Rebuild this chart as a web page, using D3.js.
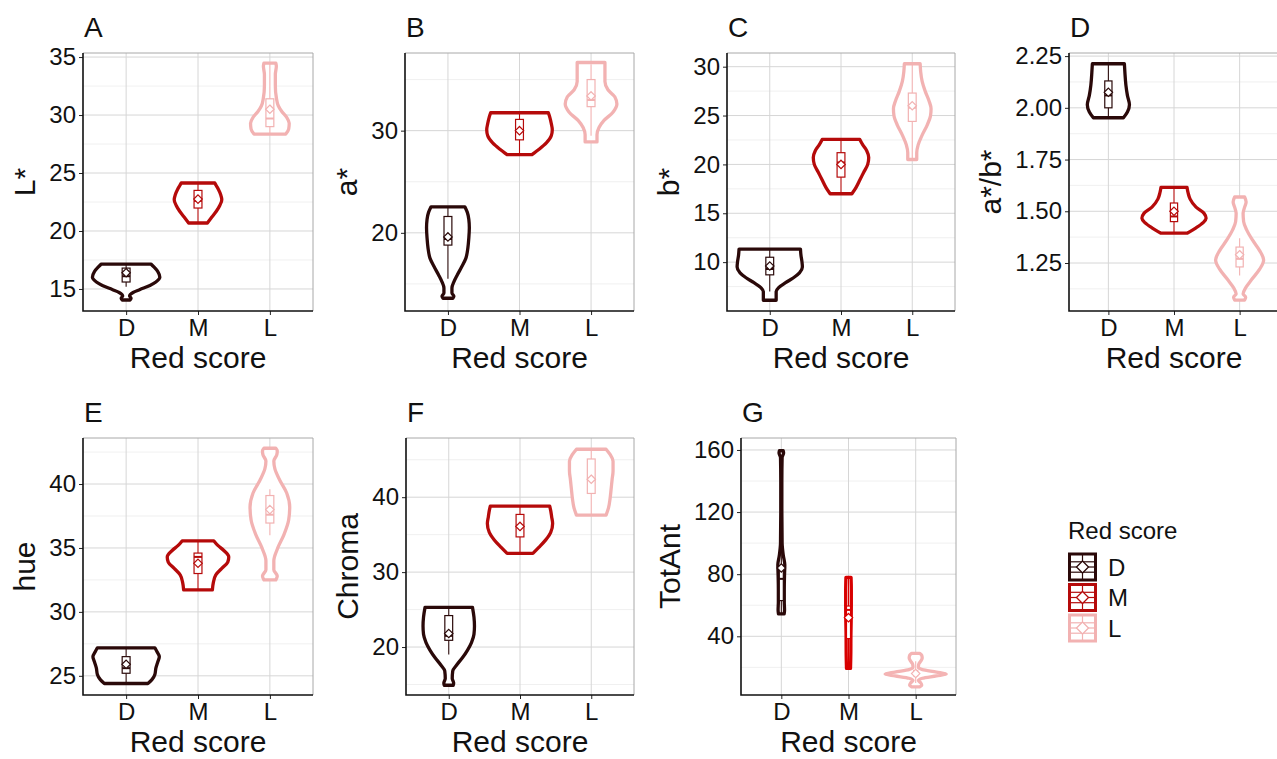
<!DOCTYPE html>
<html>
<head>
<meta charset="utf-8">
<script src="https://cdn.jsdelivr.net/npm/d3@7"></script>
<style>
  body { margin: 0; background: #fff; }
  svg { display: block; font-family: "Liberation Sans", Arial, sans-serif; }
</style>
</head>
<body>
<svg id="chart" width="1277" height="759"></svg>
<script>
// groups and panel text
const groups = ["D", "M", "L"];
const panelLetters = ["A", "B", "C", "D", "E", "F", "G"];
const yTitles = ["L*", "a*", "b*", "a*/b*", "hue", "Chroma", "TotAnt"];
const xTitle = "Red score";
const legendTitle = "Red score";

const yDomains = [[13.1, 35.35], [12.35, 37.6], [5.0, 31.4], [1.018, 2.265], [23.5, 43.6], [13.6, 47.9], [2.2, 167.7]];
const yTicks = [
  [15, 20, 25, 30, 35],
  [20, 30],
  [10, 15, 20, 25, 30],
  [1.25, 1.5, 1.75, 2.0, 2.25],
  [25, 30, 35, 40],
  [20, 30, 40],
  [40, 80, 120, 160],
];
const yTickLabels = [
  ["15", "20", "25", "30", "35"],
  ["20", "30"],
  ["10", "15", "20", "25", "30"],
  ["1.25", "1.50", "1.75", "2.00", "2.25"],
  ["25", "30", "35", "40"],
  ["20", "30", "40"],
  ["40", "80", "120", "160"],
];

// violin outlines: [value, half width in category units]
const profA_D = [[14.05, .055], [14.2, .069], [14.4, .048], [14.7, .097], [14.95, .193], [15.3, .331], [15.6, .414], [16.0, .469], [16.5, .441], [16.9, .386], [17.15, .345]];
const profA_M = [[20.69, .131], [21.2, .193], [21.7, .255], [22.2, .303], [22.7, .331], [23.1, .317], [23.6, .283], [23.9, .255], [24.14, .234]];
const profA_L = [[28.36, .221], [28.8, .262], [29.3, .269], [29.8, .234], [30.3, .166], [30.8, .117], [31.5, .09], [32.5, .076], [33.5, .076], [34.2, .09], [34.48, .083]];

const profB_D = [[13.6, .069], [13.8, .083], [14.1, .056], [14.6, .056], [15.2, .083], [15.9, .132], [16.7, .194], [17.5, .25], [18.5, .278], [19.5, .292], [20.5, .299], [21.3, .292], [22.0, .271], [22.55, .236]];
const profB_M = [[27.65, .174], [28.2, .278], [28.8, .375], [29.5, .444], [30.1, .458], [30.7, .444], [31.3, .424], [31.75, .403]];
const profB_L = [[28.9, .083], [29.6, .083], [30.3, .111], [31.0, .181], [31.8, .306], [32.6, .361], [33.3, .333], [34.0, .236], [34.8, .194], [35.8, .194], [36.67, .194]];

const profC_D = [[6.1, .09], [7.0, .09], [7.4, .125], [7.9, .222], [8.4, .333], [8.9, .417], [9.5, .458], [10.1, .451], [10.7, .438], [11.33, .431]];
const profC_M = [[17.0, .153], [17.6, .208], [18.4, .264], [19.2, .319], [20.0, .375], [20.7, .389], [21.4, .361], [22.0, .306], [22.56, .264]];
const profC_L = [[20.5, .063], [21.2, .063], [22.0, .083], [23.0, .139], [24.0, .208], [25.0, .257], [25.7, .264], [26.5, .236], [27.5, .181], [28.5, .139], [29.5, .118], [30.3, .111]];

const profD_D = [[1.952, .229], [1.98, .29], [2.015, .321], [2.06, .29], [2.11, .267], [2.17, .252], [2.213, .244]];
const profD_M = [[1.394, .198], [1.42, .336], [1.445, .443], [1.466, .489], [1.49, .458], [1.52, .336], [1.56, .244], [1.59, .214], [1.616, .198]];
const profD_L = [[1.071, .076], [1.085, .092], [1.10, .053], [1.13, .092], [1.17, .183], [1.22, .305], [1.265, .366], [1.31, .305], [1.36, .198], [1.41, .107], [1.45, .061], [1.49, .053], [1.52, .076], [1.545, .099], [1.569, .076]];

const profE_D = [[24.4, .303], [24.7, .359], [25.1, .4], [25.6, .414], [26.1, .441], [26.5, .462], [26.9, .428], [27.19, .4]];
const profE_M = [[31.72, .2], [32.3, .214], [32.9, .248], [33.4, .331], [33.9, .414], [34.3, .428], [34.8, .359], [35.2, .276], [35.55, .221]];
const profE_L = [[32.5, .083], [32.8, .103], [33.3, .055], [34.0, .055], [35.0, .11], [36.0, .193], [37.2, .262], [38.2, .276], [39.3, .234], [40.3, .138], [41.2, .069], [41.8, .055], [42.3, .097], [42.6, .103], [42.8, .083]];

const profF_D = [[14.9, .063], [15.2, .069], [15.8, .049], [16.8, .056], [17.6, .111], [18.6, .194], [19.6, .264], [20.6, .319], [21.7, .354], [22.8, .361], [24.0, .354], [25.3, .333]];
const profF_M = [[32.5, .181], [33.3, .264], [34.3, .361], [35.3, .431], [36.5, .458], [37.4, .444], [38.2, .431], [38.8, .417]];
const profF_L = [[37.6, .208], [38.6, .243], [39.8, .264], [41.0, .278], [42.3, .292], [43.5, .306], [44.8, .306], [45.7, .264], [46.4, .208]];

const profG_D = [[54.4, .042], [57, .048], [62, .044], [70, .044], [80, .048], [86, .052], [92, .03], [100, .012], [120, .008], [140, .008], [155, .012], [158, .034], [159.5, .028]];
const profG_M = [[19.3, .03], [30, .035], [40, .036], [50, .04], [60, .042], [70, .042], [78, .038]];
const profG_L = [[7.4, .06], [8.5, .09], [10, .075], [11.5, .04], [13, .1], [14.5, .31], [15.7, .455], [17, .31], [18.5, .1], [20, .04], [22, .045], [24, .075], [26, .097], [27.8, .09], [29, .06]];

// box stats per group: [lower whisker, q1, median, q3, upper whisker, mean]
const boxA = [[15.2, 15.6, 16.1, 16.8, 17.15, 16.4], [20.69, 21.98, 22.6, 23.5, 24.14, 22.75], [28.4, 29.0, 29.7, 31.4, 34.4, 30.5]];
const boxB = [[15.5, 18.8, 19.4, 21.6, 22.55, 19.6], [27.65, 29.1, 30.0, 31.1, 31.75, 30.0], [29.5, 32.35, 33.0, 35.0, 36.5, 33.4]];
const boxC = [[7.0, 8.7, 9.3, 10.5, 11.33, 9.6], [17.0, 18.7, 20.2, 21.2, 22.56, 20.0], [20.5, 24.4, 25.8, 27.3, 30.3, 26.0]];
const boxD = [[1.952, 2.00, 2.06, 2.13, 2.213, 2.075], [1.394, 1.45, 1.475, 1.54, 1.616, 1.50], [1.19, 1.231, 1.27, 1.327, 1.37, 1.29]];
const boxE = [[24.4, 25.2, 25.6, 26.5, 27.19, 25.9], [31.72, 33.0, 34.3, 34.6, 35.55, 33.8], [36.0, 36.95, 37.6, 39.1, 39.6, 38.0]];
const boxF = [[19.0, 20.9, 21.5, 24.2, 25.3, 21.8], [32.5, 34.7, 36.2, 37.7, 38.8, 36.1], [37.6, 40.5, 42.3, 45.1, 46.4, 42.4]];
const boxG = [[54.4, 63, 77, 84, 100, 84], [19.3, 38.5, 57, 59.5, 78, 52], [10, 14.5, 16, 18, 24, 16]];

const profiles = [
  [profA_D, profA_M, profA_L],
  [profB_D, profB_M, profB_L],
  [profC_D, profC_M, profC_L],
  [profD_D, profD_M, profD_L],
  [profE_D, profE_M, profE_L],
  [profF_D, profF_M, profF_L],
  [profG_D, profG_M, profG_L],
];
const boxes = [boxA, boxB, boxC, boxD, boxE, boxF, boxG];

// panel frames (plot area in px)
const frames = [
  { l: 83, r: 313, t: 53, b: 311 },
  { l: 405, r: 634, t: 53, b: 311 },
  { l: 727, r: 955, t: 53, b: 311 },
  { l: 1069, r: 1279, t: 53, b: 311 },
  { l: 83, r: 313, t: 438, b: 695 },
  { l: 406, r: 634, t: 438, b: 695 },
  { l: 741, r: 956, t: 438, b: 695 },
];

const color = d3.scaleOrdinal().domain(groups).range(["#2a0909", "#b50a0a", "#f2b2b2"]);
const colorG = d3.scaleOrdinal().domain(groups).range(["#2a0909", "#d80000", "#f4b4b4"]);

const svg = d3.select("#chart");

function diamond(r) {
  return `M0,${-r}L${r},0L0,${r}L${-r},0Z`;
}

panelLetters.forEach((letter, p) => {
  const f = frames[p];
  const col = p === 6 ? colorG : color;
  const g = svg.append("g");

  const x = d3.scalePoint().domain(groups).range([f.l, f.r]).padding(0.6);
  const y = d3.scaleLinear().domain(yDomains[p]).range([f.b, f.t]);
  const step = x.step();

  // minor grid = midpoints between major ticks
  const ticks = yTicks[p];
  const half = (ticks[1] - ticks[0]) / 2;
  const minor = [];
  for (let v = ticks[0] - half; v <= yDomains[p][1] + 1e-9; v += half * 2) {
    if (v >= yDomains[p][0]) minor.push(v);
  }

  g.selectAll(".minor").data(minor).enter().append("line")
    .attr("x1", f.l).attr("x2", f.r)
    .attr("y1", d => y(d)).attr("y2", d => y(d))
    .attr("stroke", "#ececec").attr("stroke-width", 0.8);

  g.selectAll(".major").data(ticks).enter().append("line")
    .attr("x1", f.l).attr("x2", f.r)
    .attr("y1", d => y(d)).attr("y2", d => y(d))
    .attr("stroke", "#d6d6d6").attr("stroke-width", 1);

  g.selectAll(".vmajor").data(groups).enter().append("line")
    .attr("x1", d => x(d)).attr("x2", d => x(d))
    .attr("y1", f.t).attr("y2", f.b)
    .attr("stroke", "#d6d6d6").attr("stroke-width", 1);

  // top/right border
  g.append("path")
    .attr("d", `M${f.l},${f.t}H${f.r}V${f.b}`)
    .attr("fill", "none").attr("stroke", "#a8a8a8").attr("stroke-width", 1);

  // violins
  const thin = p === 6;
  groups.forEach((grp, i) => {
    const cx = x(grp);
    const c = col(grp);
    const area = d3.area()
      .y(d => y(d[0]))
      .x0(d => cx - d[1] * step)
      .x1(d => cx + d[1] * step)
      .curve(d3.curveMonotoneY);
    g.append("path")
      .attr("d", area(profiles[p][i]))
      .attr("fill", "#fff")
      .attr("stroke", c)
      .attr("stroke-width", 3.3)
      .attr("stroke-linejoin", "round");

    const s = boxes[p][i];
    const bw = (thin ? 0.03 : 0.055) * step;
    g.append("line")
      .attr("x1", cx).attr("x2", cx)
      .attr("y1", y(s[0])).attr("y2", y(s[4]))
      .attr("stroke", c).attr("stroke-width", 1.1);
    g.append("rect")
      .attr("x", cx - bw).attr("width", bw * 2)
      .attr("y", y(s[3])).attr("height", y(s[1]) - y(s[3]))
      .attr("fill", "#fff").attr("stroke", c).attr("stroke-width", 1.2);
    g.append("line")
      .attr("x1", cx - bw).attr("x2", cx + bw)
      .attr("y1", y(s[2])).attr("y2", y(s[2]))
      .attr("stroke", c).attr("stroke-width", 2);
    g.append("path")
      .attr("d", diamond(4.2))
      .attr("transform", `translate(${cx},${y(s[5])})`)
      .attr("fill", "#fff").attr("stroke", c).attr("stroke-width", 1.2);
  });

  // axes
  const yAxis = g.append("g")
    .attr("transform", `translate(${f.l},0)`)
    .call(d3.axisLeft(y).tickValues(ticks).tickFormat((d, k) => yTickLabels[p][k]).tickSize(4).tickPadding(3));
  const xAxis = g.append("g")
    .attr("transform", `translate(0,${f.b})`)
    .call(d3.axisBottom(x).tickSize(4).tickPadding(4));
  [yAxis, xAxis].forEach(a => {
    a.select(".domain").remove();
    a.selectAll("line").attr("stroke", "#222").attr("stroke-width", 1);
    a.selectAll("text").attr("fill", "#111").style("font-size", "24px");
  });
  g.append("path")
    .attr("d", `M${f.l},${f.t}V${f.b}H${f.r}`)
    .attr("fill", "none").attr("stroke", "#111").attr("stroke-width", 1.6);

  // titles
  const labelW = d3.max(yAxis.selectAll("text").nodes(), n => n.getComputedTextLength());
  g.append("text")
    .attr("transform", `translate(${f.l - labelW - 21},${(f.t + f.b) / 2}) rotate(-90)`)
    .attr("text-anchor", "middle")
    .style("font-size", "30px").attr("fill", "#111")
    .text(yTitles[p]);
  g.append("text")
    .attr("x", (f.l + f.r) / 2).attr("y", f.b + 57)
    .attr("text-anchor", "middle")
    .style("font-size", "30px").attr("fill", "#111")
    .text(xTitle);
  g.append("text")
    .attr("x", f.l + 1).attr("y", f.t - 16)
    .style("font-size", "28px").attr("fill", "#111")
    .text(letter);
});

// legend
const lg = svg.append("g").attr("transform", "translate(1068,0)");
lg.append("text").attr("x", 0).attr("y", 539)
  .style("font-size", "24px").attr("fill", "#111").text(legendTitle);
groups.forEach((grp, i) => {
  const top = 554 + i * 30.5;
  const k = 26;
  const c = color(grp);
  const key = lg.append("g").attr("transform", `translate(1.5,${top})`);
  key.append("rect").attr("width", k).attr("height", k)
    .attr("fill", "#fff").attr("stroke", c).attr("stroke-width", 3);
  [k * 0.3, k * 0.5, k * 0.7].forEach(yy => {
    key.append("line").attr("x1", 1).attr("x2", k - 1)
      .attr("y1", yy).attr("y2", yy)
      .attr("stroke", c).attr("stroke-width", 1.2);
  });
  key.append("line").attr("x1", k / 2).attr("x2", k / 2)
    .attr("y1", 1).attr("y2", k - 1)
    .attr("stroke", c).attr("stroke-width", 1.2);
  key.append("path").attr("d", diamond(6))
    .attr("transform", `translate(${k / 2},${k / 2})`)
    .attr("fill", "#fff").attr("stroke", c).attr("stroke-width", 1.3);
  lg.append("text").attr("x", 40).attr("y", top + k / 2 + 8.5)
    .style("font-size", "24px").attr("fill", "#111").text(grp);
});
</script>
</body>
</html>
